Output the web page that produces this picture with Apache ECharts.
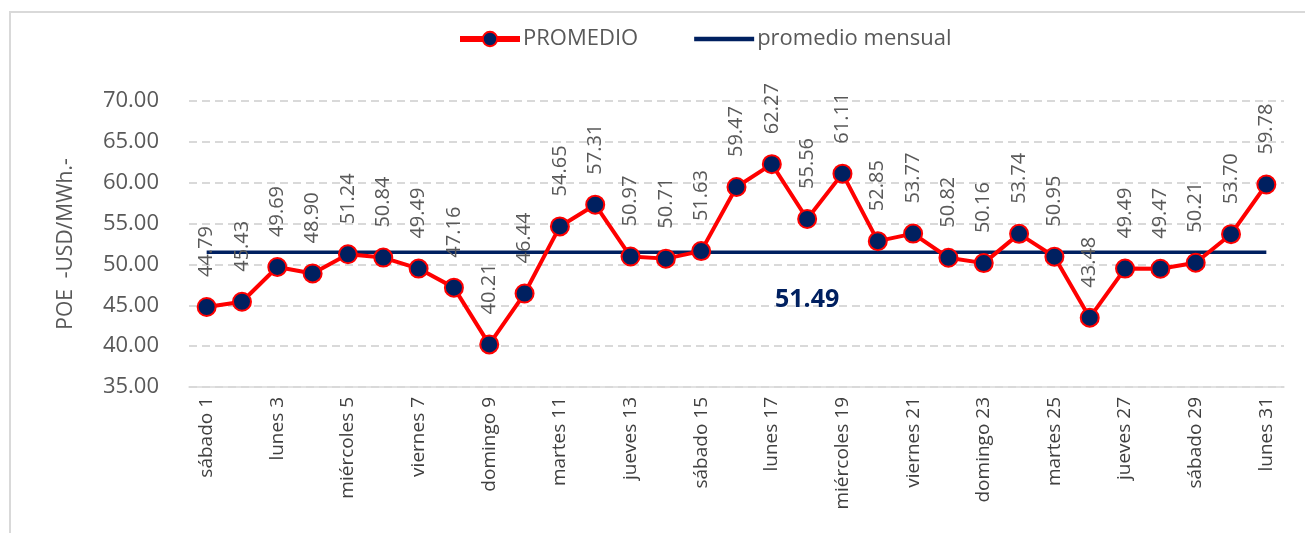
<!DOCTYPE html>
<html>
<head>
<meta charset="utf-8">
<script src="https://cdn.jsdelivr.net/npm/echarts@6/dist/echarts.min.js"></script>
<style>
  html, body { margin: 0; padding: 0; background: #fff; }
  #chart { width: 1305px; height: 533px; }
</style>
</head>
<body>
<div id="chart"></div>
<script>
// días del mes
const dias = [
  'sábado 1', 'domingo 2', 'lunes 3', 'martes 4', 'miércoles 5', 'jueves 6', 'viernes 7',
  'sábado 8', 'domingo 9', 'lunes 10', 'martes 11', 'miércoles 12', 'jueves 13', 'viernes 14',
  'sábado 15', 'domingo 16', 'lunes 17', 'martes 18', 'miércoles 19', 'jueves 20', 'viernes 21',
  'sábado 22', 'domingo 23', 'lunes 24', 'martes 25', 'miércoles 26', 'jueves 27', 'viernes 28',
  'sábado 29', 'domingo 30', 'lunes 31'
];

// POE promedio diario (USD/MWh)
const promedio = [
  44.79, 45.43, 49.69, 48.90, 51.24, 50.84, 49.49, 47.16, 40.21, 46.44,
  54.65, 57.31, 50.97, 50.71, 51.63, 59.47, 62.27, 55.56, 61.11, 52.85,
  53.77, 50.82, 50.16, 53.74, 50.95, 43.48, 49.49, 49.47, 50.21, 53.70, 59.78
];

const promedioMensual = 51.49;
const diaEtiquetaMensual = 'martes 18';

const yTicks = { min: 35, max: 70, interval: 5 };

const RED = '#ff0000';
const NAVY = '#002060';
const GRAY = '#595959';
const FONT = '"Open Sans", sans-serif';

const chart = echarts.init(document.getElementById('chart'));

chart.setOption({
  animation: false,
  textStyle: { fontFamily: FONT },
  graphic: [{
    type: 'rect',
    shape: { x: 10, y: 12, width: 1305, height: 540 },
    style: { fill: 'none', stroke: '#d9d9d9', lineWidth: 2 },
    silent: true
  }],
  legend: {
    top: 23,
    left: 452,
    itemGap: 56,
    itemWidth: 60,
    itemHeight: 18,
    textStyle: { color: GRAY, fontSize: 22, fontFamily: FONT, padding: [0, 0, 0, -2] },
    data: [
      { name: 'PROMEDIO', lineStyle: { width: 6 } },
      { name: 'promedio mensual', icon: 'path://M0,0 L60,0 L60,4.5 L0,4.5 Z' }
    ]
  },
  grid: { left: 189, right: 21, top: 101, bottom: 146 },
  xAxis: {
    type: 'category',
    data: dias,
    boundaryGap: true,
    axisLine: { lineStyle: { color: '#d9d9d9', width: 1.5 } },
    axisTick: { show: false },
    axisLabel: {
      interval: 1,
      rotate: 90,
      color: '#404040',
      fontSize: 19,
      margin: 10,
      fontFamily: FONT
    }
  },
  yAxis: {
    type: 'value',
    min: yTicks.min,
    max: yTicks.max,
    interval: yTicks.interval,
    name: 'POE  -USD/MWh.-',
    nameLocation: 'middle',
    nameGap: 112,
    nameRotate: 90,
    nameTextStyle: { color: GRAY, fontSize: 21, fontFamily: FONT },
    axisLine: { show: false },
    axisTick: { show: false },
    axisLabel: {
      color: GRAY,
      fontSize: 22,
      margin: 30,
      fontFamily: FONT,
      formatter: v => v.toFixed(2)
    },
    splitLine: { lineStyle: { color: '#d9d9d9', type: [8, 5], width: 2 } }
  },
  series: [
    {
      name: 'promedio mensual',
      type: 'line',
      data: [[dias[0], promedioMensual], [dias[dias.length - 1], promedioMensual]],
      symbol: 'none',
      lineStyle: { color: NAVY, width: 3.5 },
      itemStyle: { color: NAVY },
      z: 3,
      markPoint: {
        symbol: 'rect',
        symbolSize: 1,
        itemStyle: { color: 'transparent' },
        label: {
          show: true,
          color: NAVY,
          fontSize: 25,
          fontWeight: 'bold',
          fontFamily: FONT,
          offset: [0, 48],
          formatter: () => promedioMensual.toFixed(2)
        },
        data: [{ coord: [diaEtiquetaMensual, promedioMensual] }]
      }
    },
    {
      name: 'PROMEDIO',
      type: 'line',
      data: promedio,
      symbol: 'circle',
      symbolSize: 18,
      lineStyle: { color: RED, width: 4 },
      itemStyle: { color: NAVY, borderColor: RED, borderWidth: 2 },
      z: 4,
      label: {
        show: true,
        position: 'top',
        distance: 20,
        rotate: 90,
        align: 'left',
        verticalAlign: 'middle',
        color: GRAY,
        fontSize: 20,
        fontFamily: FONT,
        formatter: p => p.value.toFixed(2)
      }
    }
  ]
});
</script>
</body>
</html>
